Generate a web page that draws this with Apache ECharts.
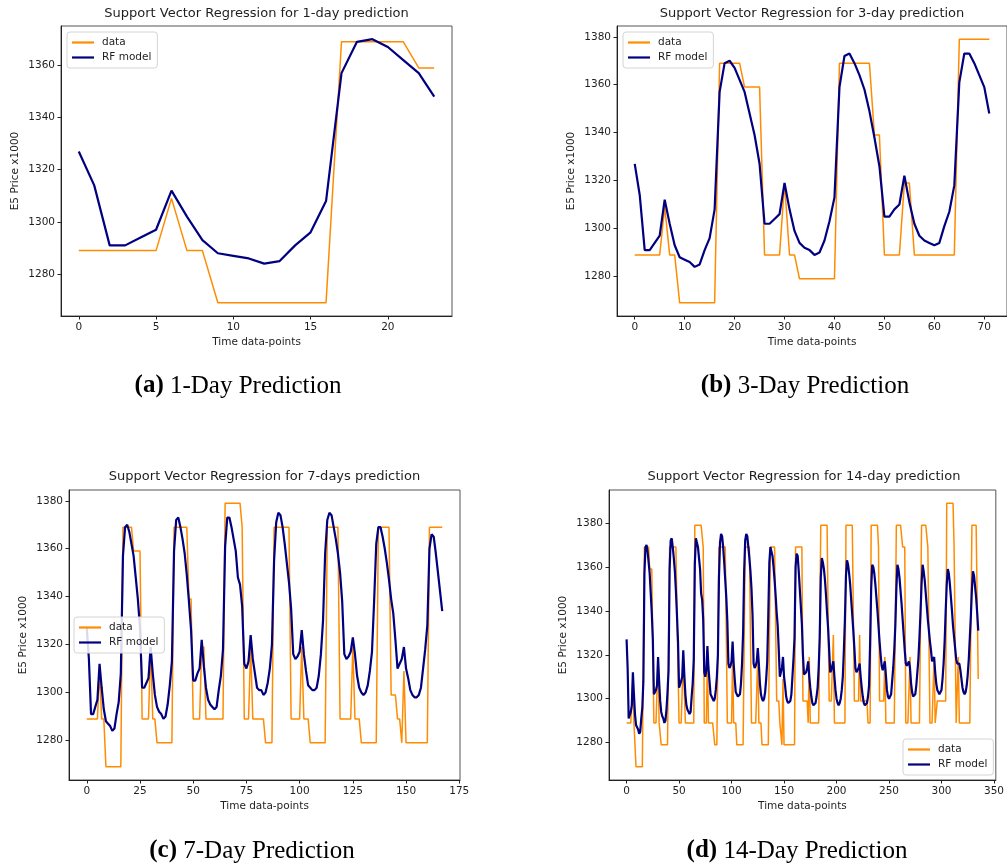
<!DOCTYPE html>
<html><head><meta charset="utf-8">
<script src="https://cdn.jsdelivr.net/npm/echarts@6/dist/echarts.min.js"></script>
<style>html,body{margin:0;padding:0;background:#fff}#c{width:1007px;height:867px}</style>
</head><body><div id="c"></div>
<script>
// ---------- data ----------
const seriesNames = ['data', 'RF model'];
const panelTitles = [
  'Support Vector Regression for 1-day prediction',
  'Support Vector Regression for 3-day prediction',
  'Support Vector Regression for 7-days prediction',
  'Support Vector Regression for 14-day prediction'
];
const captionLabels = ['(a)', '(b)', '(c)', '(d)'];
const captionTexts = ['1-Day Prediction', '3-Day Prediction', '7-Day Prediction', '14-Day Prediction'];
const pointCounts = [24, 72, 168, 336];
const xAxisName = 'Time data-points';
const yAxisName = 'E5 Price x1000';

const xTicks1 = [0, 5, 10, 15, 20];
const xTicks3 = [0, 10, 20, 30, 40, 50, 60, 70];
const xTicks7 = [0, 25, 50, 75, 100, 125, 150, 175];
const xTicks14 = [0, 50, 100, 150, 200, 250, 300, 350];
const yTicks1 = [1280, 1300, 1320, 1340, 1360];
const yTicksN = [1280, 1300, 1320, 1340, 1360, 1380];

// observed price, one row per 24 data-points
const priceRows = [
  [1289,1289,1289,1289,1289,1289,1309,1289,1289,1269,1269,1269,1269,1269,1269,1269,1269,1369,1369,1369,1369,1369,1359,1359],
  [1359,1359,1289,1289,1289,1289,1319,1289,1289,1279,1279,1279,1279,1279,1279,1279,1279,1369,1369,1369,1369,1369,1369,1369],
  [1339,1339,1289,1289,1289,1289,1319,1319,1289,1289,1289,1289,1289,1289,1289,1289,1289,1379,1379,1379,1379,1379,1379,1379],
  [1379,1369,1289,1289,1289,1319,1289,1289,1289,1289,1289,1289,1279,1279,1279,1279,1369,1369,1369,1369,1369,1369,1369,1369],
  [1289,1289,1289,1289,1289,1319,1289,1289,1289,1279,1279,1279,1279,1279,1279,1279,1279,1369,1369,1369,1369,1369,1369,1289],
  [1289,1289,1289,1289,1289,1319,1289,1289,1289,1279,1279,1279,1279,1279,1279,1279,1279,1369,1369,1369,1369,1369,1369,1299],
  [1299,1299,1289,1289,1279,1309,1279,1279,1279,1279,1279,1279,1279,1279,1279,1279,1279,1369,1369,1369,1369,1369,1369,1369],
  [1299,1299,1299,1299,1299,1289,1319,1289,1289,1289,1289,1289,1289,1289,1289,1289,1289,1379,1379,1379,1379,1379,1379,1379],
  [1379,1299,1299,1299,1299,1329,1289,1289,1289,1289,1289,1289,1289,1289,1289,1289,1289,1379,1379,1379,1379,1379,1379,1379],
  [1379,1299,1299,1299,1299,1299,1329,1299,1299,1299,1299,1299,1299,1299,1289,1289,1289,1379,1379,1379,1379,1379,1379,1379],
  [1369,1299,1299,1299,1299,1299,1319,1289,1289,1289,1289,1289,1289,1289,1289,1289,1289,1379,1379,1379,1379,1379,1379,1369],
  [1369,1369,1289,1289,1289,1289,1319,1289,1289,1289,1289,1289,1289,1289,1289,1289,1289,1379,1379,1379,1379,1379,1379,1369],
  [1369,1289,1289,1289,1289,1319,1289,1289,1299,1299,1299,1299,1299,1299,1299,1299,1299,1389,1389,1389,1389,1389,1389,1389],
  [1369,1369,1289,1289,1319,1289,1289,1289,1289,1289,1289,1289,1289,1289,1289,1289,1289,1379,1379,1379,1379,1379,1379,1309]
];
// model prediction, one row per 24 data-points
const modelRows = [
  [1327,1314,1291,1291,1294,1297,1312,1302,1293,1288,1287,1286,1284,1285,1291,1296,1308,1357,1369,1370,1367,1362,1357,1348],
  [1339,1327,1302,1302,1304,1306,1319,1308,1299,1294,1292,1291,1289,1290,1295,1303,1313,1359,1372,1373,1369,1364,1358,1349],
  [1338,1326,1305,1305,1308,1310,1322,1311,1302,1297,1295,1294,1293,1294,1301,1307,1318,1361,1373,1373,1369,1364,1359,1348],
  [1345,1336,1312,1310,1313,1324,1314,1308,1302,1301,1301,1299,1300,1304,1310,1320,1355,1371,1375,1374,1369,1362,1354,1346],
  [1335,1316,1314,1315,1317,1326,1316,1309,1303,1302,1301,1301,1302,1307,1316,1330,1358,1372,1375,1374,1369,1364,1358,1350],
  [1338,1316,1314,1315,1317,1323,1316,1307,1302,1300,1299,1300,1303,1309,1317,1338,1362,1369,1369,1365,1360,1354,1347,1339],
  [1333,1322,1310,1312,1314,1319,1310,1306,1301,1299,1298,1298,1299,1302,1310,1318,1328,1360,1366,1365,1358,1350,1342,1334],
  [1320,1311,1311,1312,1314,1317,1310,1305,1301,1298,1297,1297,1298,1301,1305,1314,1328,1355,1364,1362,1359,1354,1347,1339],
  [1332,1322,1312,1313,1315,1317,1310,1304,1300,1298,1297,1298,1300,1304,1310,1322,1336,1356,1363,1361,1357,1352,1345,1338],
  [1331,1323,1314,1312,1313,1314,1316,1310,1305,1301,1298,1297,1297,1298,1301,1306,1325,1350,1361,1360,1357,1352,1346,1340],
  [1333,1326,1320,1315,1313,1315,1317,1311,1304,1301,1300,1300,1302,1308,1314,1322,1333,1350,1361,1359,1355,1349,1343,1336],
  [1329,1322,1316,1315,1315,1317,1314,1307,1303,1301,1301,1302,1306,1312,1318,1328,1339,1352,1361,1358,1354,1348,1342,1336],
  [1331,1326,1322,1317,1317,1319,1312,1307,1304,1303,1302,1302,1304,1309,1316,1326,1340,1352,1359,1357,1352,1346,1340,1333],
  [1328,1323,1318,1316,1316,1316,1313,1309,1305,1303,1302,1303,1306,1311,1318,1328,1338,1350,1358,1356,1351,1346,1339,1331]
];
const priceData = priceRows.flat();
const modelData = modelRows.flat();

// ---------- layout / style ----------
const ORANGE = '#ff8c00', NAVY = '#000080', TXT = '#1e1e1e';
const FONT = 'DejaVu Sans';
const panels = [
  {grid:{left:61, top:26, width:391, height:290}, x:[-1.15,24.15], y:[1263.95,1375.05], xt:xTicks1, yt:yTicks1,
   title:[256.5,14], legend:{left:67, top:32}, cap:[238,386]},
  {grid:{left:617, top:26, width:390, height:290}, x:[-3.55,74.55], y:[1263.5,1384.5], xt:xTicks3, yt:yTicksN,
   title:[812,14], legend:{left:623, top:32}, cap:[805,386]},
  {grid:{left:69, top:490, width:391, height:290}, x:[-8.35,175.35], y:[1263.5,1384.5], xt:xTicks7, yt:yTicksN,
   title:[264.5,477], legend:{left:74, top:617}, cap:[252,851]},
  {grid:{left:609, top:490, width:390, height:290}, x:[-16.75,351.75], y:[1263,1395], xt:xTicks14, yt:yTicksN,
   title:[804,477], legend:{left:903, top:739}, cap:[797,851]}
];

const plain = v => String(Math.round(v));
const grids = [], xAxes = [], yAxes = [], series = [], legends = [], graphics = [];
panels.forEach((p, k) => {
  grids.push(Object.assign({show:true, borderColor:'#555', borderWidth:1, backgroundColor:'#fff'}, p.grid));
  const common = {
    gridIndex:k, type:'value', nameLocation:'middle',
    axisLine:{show:true, onZero:false, lineStyle:{color:'#222', width:1}},
    splitLine:{show:false},
    nameTextStyle:{fontFamily:FONT, fontSize:10.5, color:TXT}
  };
  xAxes.push(Object.assign({}, common, {
    min:p.x[0], max:p.x[1], name:xAxisName, nameGap:21,
    axisTick:{show:true, length:3.5, customValues:p.xt, lineStyle:{color:'#222'}},
    axisLabel:{customValues:p.xt, formatter:plain, fontFamily:FONT, fontSize:10.5, color:TXT, margin:6}
  }));
  yAxes.push(Object.assign({}, common, {
    min:p.y[0], max:p.y[1], name:yAxisName, nameGap:40,
    axisTick:{show:true, length:3.5, customValues:p.yt, lineStyle:{color:'#222'}},
    axisLabel:{customValues:p.yt, formatter:plain, fontFamily:FONT, fontSize:10.5, color:TXT, margin:6}
  }));
  const n = pointCounts[k];
  series.push({
    type:'line', name:seriesNames[0], xAxisIndex:k, yAxisIndex:k, z:2,
    data: priceData.slice(0, n).map((v, i) => [i, v]),
    showSymbol:false, symbol:'none', lineStyle:{color:ORANGE, width:1.5}, itemStyle:{color:ORANGE}
  });
  series.push({
    type:'line', name:seriesNames[1], xAxisIndex:k, yAxisIndex:k, z:3,
    data: modelData.slice(0, n).map((v, i) => [i, v]),
    showSymbol:false, symbol:'none', lineStyle:{color:NAVY, width:2.2}, itemStyle:{color:NAVY}
  });
  legends.push(Object.assign({
    data:seriesNames, orient:'vertical', selectedMode:false, icon:'rect',
    itemWidth:22, itemHeight:2.2, itemGap:4, padding:[5,6,5,5],
    backgroundColor:'rgba(255,255,255,0.85)', borderColor:'#d4d4d4', borderWidth:1, borderRadius:3,
    textStyle:{fontFamily:FONT, fontSize:10.5, color:TXT, padding:[0,0,0,3]}
  }, p.legend));
  graphics.push({
    type:'text', x:p.title[0], y:p.title[1], z:10,
    style:{text:panelTitles[k], fontFamily:FONT, fontSize:13, fill:TXT, align:'center', verticalAlign:'middle'}
  });
  graphics.push({
    type:'text', x:p.cap[0], y:p.cap[1], z:10,
    style:{text:'{b|' + captionLabels[k] + '} ' + captionTexts[k], fontFamily:'Liberation Serif', fontSize:25,
      fill:'#000', align:'center', verticalAlign:'middle',
      rich:{b:{fontFamily:'Liberation Serif', fontSize:25, fontWeight:'bold', fill:'#000'}}}
  });
});

const chart = echarts.init(document.getElementById('c'), null, {renderer:'canvas'});
chart.setOption({
  animation:false, backgroundColor:'#fff',
  grid:grids, xAxis:xAxes, yAxis:yAxes, series:series, legend:legends, graphic:graphics
});
</script></body></html>
